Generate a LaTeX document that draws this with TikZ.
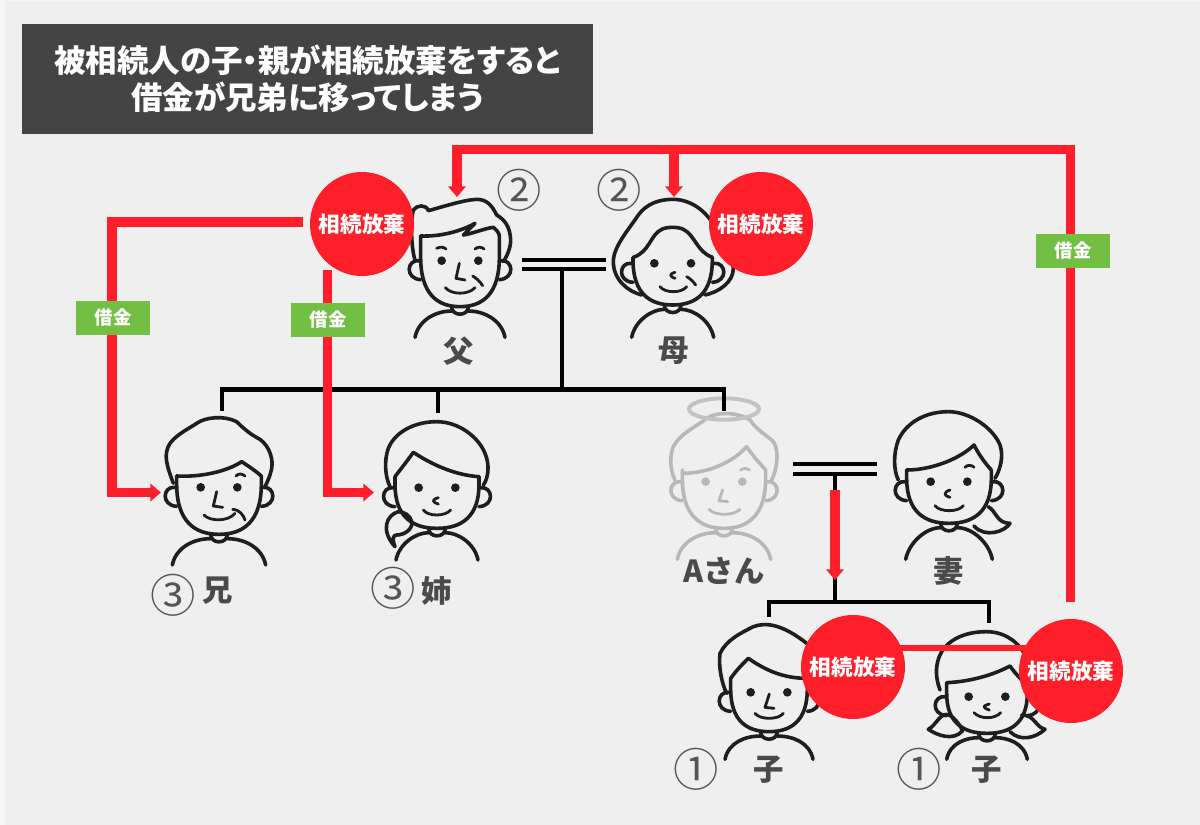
\documentclass[tikz,border=0pt]{standalone}
\usepackage{fontspec}
\usetikzlibrary{arrows.meta}
\setmainfont{Noto Sans CJK JP}
\newfontfamily\jpp{Noto Sans CJK JP}[RawFeature=+palt]
\definecolor{bgc}{HTML}{EFEFEF}
\definecolor{edgec}{HTML}{F6F6F6}
\definecolor{titlec}{HTML}{444444}
\definecolor{redc}{HTML}{FF1F2A}
\definecolor{greenc}{HTML}{73BF44}
\definecolor{inkc}{HTML}{1E1E1E}
\definecolor{ghostc}{HTML}{B8B8B8}
\definecolor{labelc}{HTML}{4A4A4A}
\definecolor{numc}{HTML}{555555}
% #1 cx #2 cy #3 chin #4 jaw half #5 shoulder half #6 shoulder y #7 jaw top
\newcommand{\pbase}[7]{%
  \begin{scope}[shift={(#1,#2)}]
    \draw (-#4,#7) -- (-#4,-10) .. controls (-#4,{#3*.72}) and ({-#4*.58},#3) .. (0,#3)
      .. controls ({#4*.58},#3) and (#4,{#3*.72}) .. (#4,-10) -- (#4,#7);
    \draw ({-#4-5},0) .. controls ({-#4-42},-4) and ({-#4-48},54) .. (-#4,57);
    \draw ({#4+5},0) .. controls ({#4+42},-4) and ({#4+48},54) .. (#4,57);
    \fill (-55,0) circle (13);
    \fill (55,0) circle (13);
    \draw (-25,#3) .. controls (-25,{#3+30}) and (25,{#3+30}) .. (25,#3);
    \draw (-#5,#6) .. controls ({-#5+10},{#6-50}) and ({-#5+60},{#3+13}) .. (-25,{#3+13});
    \draw (#5,#6) .. controls ({#5-10},{#6-50}) and ({#5-60},{#3+13}) .. (25,{#3+13});
  \end{scope}}
\tikzset{
  pen/.style={line width=2.7pt,line cap=round,line join=round},
  fine/.style={line width=2.1pt},
  blk/.style={draw=black,line width=3.6pt},
  redl/.style={draw=redc,line width=6.9pt},
  reda/.style={redl,-{Triangle[length=8pt,width=13pt]}},
  renode/.style={circle,fill=redc,minimum size=78pt,inner sep=0pt,text=white,font=\bfseries\fontsize{16.2pt}{18pt}\selectfont},
  debt/.style={fill=greenc,minimum width=55.5pt,minimum height=25.5pt,inner sep=0pt,text=white,font=\bfseries\fontsize{13.8pt}{15pt}\selectfont},
  who/.style={text=labelc,inner sep=0pt,font=\bfseries\fontsize{22.8pt}{24pt}\selectfont},
  num/.style={text=numc,inner sep=0pt,font=\fontsize{34pt}{36pt}\selectfont},
  zoomA/.style={shift={(300,140)},x=.25pt,y=-.25pt,pen},
  zoomB/.style={shift={(130,380)},x=.25pt,y=-.25pt,pen},
  zoomC/.style={shift={(650,390)},x=.25pt,y=-.25pt,pen},
  zoomD/.style={shift={(670,590)},x=.25pt,y=-.25pt,pen},
}
\begin{document}
\begin{tikzpicture}[x=.75pt,y=-.75pt]
\useasboundingbox (0,0) rectangle (1200,825);
\fill[edgec] (0,0) rectangle (1200,825);
\fill[bgc] (5,1) rectangle (1200,825);
\node[fill=titlec,minimum width=428.25pt,minimum height=82.5pt,inner sep=0pt,text=white,align=center,
  font=\jpp\bfseries\fontsize{23.6pt}{27.5pt}\selectfont] (title) at (307.5,79)
  {被相続人の子・親が相続放棄をすると\\借金が兄弟に移ってしまう};

% father
\begin{scope}[zoomA,color=inkc]
\pbase{480}{362}{138}{118}{135}{230}{-74}
\draw (345,360) .. controls (335,330) and (330,250) .. (340,210) .. controls (350,195) and (378,192) .. (385,212)
  .. controls (430,200) and (490,180) .. (530,178) .. controls (560,178) and (575,195) .. (590,225)
  .. controls (615,240) and (630,260) .. (632,300) .. controls (632,325) and (620,350) .. (610,365);
\draw (362,288) .. controls (420,290) and (480,275) .. (525,250) -- (490,285) .. controls (520,280) and (555,265) .. (580,262)
  .. controls (590,270) and (598,280) .. (598,288);
\draw[fine] (410,325) .. controls (420,320) and (430,320) .. (438,327);
\draw[fine] (525,327) .. controls (533,320) and (545,320) .. (552,327);
\draw[fine] (478,370) -- (468,415) -- (495,420);
\draw[fine] (518,408) .. controls (530,415) and (540,425) .. (548,437);
\draw[fine] (436,443) .. controls (455,465) and (505,465) .. (525,443);
\end{scope}
% mother
\begin{scope}[zoomA,color=inkc]
\pbase{1118}{370}{125}{119}{123}{222}{-18}
\draw (1025,465) .. controls (985,455) and (940,420) .. (940,365) .. controls (940,320) and (985,270) .. (1015,225)
  .. controls (1040,190) and (1080,178) .. (1118,178) .. controls (1170,178) and (1220,210) .. (1250,270)
  .. controls (1280,320) and (1300,350) .. (1300,385) .. controls (1300,425) and (1260,455) .. (1215,465);
\draw (1000,352) .. controls (1050,335) and (1050,285) .. (1085,268) .. controls (1100,260) and (1135,260) .. (1150,268)
  .. controls (1185,285) and (1190,335) .. (1237,352);
\draw[fine] (1125,397) .. controls (1115,400) and (1112,403) .. (1112,405) .. controls (1112,407) and (1115,412) .. (1125,415);
\draw[fine] (1160,410) .. controls (1170,415) and (1180,425) .. (1187,435);
\draw[fine] (1080,440) .. controls (1095,460) and (1145,460) .. (1160,440);
\end{scope}
% brother
\begin{scope}[zoomB,color=inkc]
\pbase{267}{322}{141}{127}{140}{233}{-34}
\draw (130,310) .. controls (115,270) and (105,240) .. (110,215) .. controls (115,175) and (170,150) .. (200,130)
  .. controls (225,112) and (280,105) .. (320,125) .. controls (345,150) and (365,165) .. (390,178)
  .. controls (420,200) and (430,240) .. (425,265) .. controls (420,290) and (410,310) .. (405,320);
\draw (140,288) .. controls (210,292) and (290,275) .. (335,245) .. controls (355,258) and (380,275) .. (394,288);
\draw[fine] (318,288) .. controls (325,280) and (335,280) .. (345,288);
\draw[fine] (260,335) -- (250,378) -- (278,382);
\draw[fine] (222,405) .. controls (240,425) and (295,425) .. (315,400);
\draw[fine] (308,388) .. controls (330,390) and (340,405) .. (345,420);
\end{scope}
% sister
\begin{scope}[zoomB,color=inkc]
\pbase{921}{323}{122}{126}{123}{217}{-33}
\draw (780,320) .. controls (765,290) and (762,240) .. (775,205) .. controls (795,155) and (855,125) .. (920,125)
  .. controls (985,125) and (1045,170) .. (1065,220) .. controls (1080,255) and (1075,295) .. (1060,315);
\draw (795,290) .. controls (810,270) and (830,245) .. (850,217) .. controls (900,250) and (970,285) .. (1047,290);
\draw (805,395) .. controls (770,405) and (750,450) .. (795,500) .. controls (785,475) and (790,465) .. (800,465)
  .. controls (825,465) and (850,445) .. (845,425) .. controls (840,405) and (825,397) .. (805,395);
\draw[fine] (925,353) .. controls (915,356) and (910,360) .. (910,362) .. controls (910,365) and (915,369) .. (925,372);
\draw[fine] (880,390) .. controls (895,410) and (945,410) .. (962,390);
\end{scope}
% A-san
\begin{scope}[zoomC,color=ghostc]
\pbase{222}{275}{140}{125}{140}{233}{-35}
\draw (75,270) .. controls (60,240) and (58,200) .. (70,170) .. controls (90,130) and (140,110) .. (170,85)
  .. controls (200,65) and (260,65) .. (300,90) .. controls (325,125) and (350,135) .. (370,155)
  .. controls (390,185) and (380,240) .. (365,270);
\draw (97,250) .. controls (170,250) and (245,220) .. (290,170) .. controls (310,200) and (330,220) .. (347,240);
\draw[fine] (272,240) .. controls (280,234) and (290,234) .. (298,240);
\draw[fine] (218,300) -- (207,332) -- (233,335);
\draw[fine] (177,358) .. controls (195,378) and (250,378) .. (270,358);
\draw[draw=ghostc!80!bgc,line width=3pt] (222,57) ellipse (105 and 32);
\end{scope}
% wife
\begin{scope}[zoomC,color=inkc]
\pbase{897}{275}{125}{127}{130}{233}{-35}
\draw (745,270) .. controls (730,240) and (730,190) .. (745,150) .. controls (770,95) and (830,65) .. (895,65)
  .. controls (960,65) and (1030,115) .. (1050,165) .. controls (1062,200) and (1050,240) .. (1035,265);
\draw (770,240) .. controls (840,240) and (925,210) .. (972,165) .. controls (990,200) and (1010,225) .. (1024,240);
\draw[fine] (945,232) .. controls (952,224) and (965,224) .. (972,232);
\draw[fine] (900,300) .. controls (890,303) and (885,308) .. (885,312) .. controls (885,315) and (890,319) .. (900,322);
\draw[fine] (855,347) .. controls (870,367) and (925,367) .. (940,347);
\draw (1015,350) .. controls (1040,365) and (1040,400) .. (1080,400) .. controls (1065,425) and (1005,445) .. (972,408);
\end{scope}
% son
\begin{scope}[zoomD,color=inkc]
\pbase{297}{307}{118}{115}{132}{201}{-42}
\draw (170,310) .. controls (155,280) and (145,230) .. (150,190) .. controls (170,150) and (210,130) .. (250,110)
  .. controls (290,95) and (340,105) .. (410,160);
\draw (182,265) .. controls (200,240) and (215,225) .. (235,205) .. controls (285,240) and (340,265) .. (410,265);
\draw[fine] (298,312) -- (285,352) -- (312,355);
\draw[fine] (255,370) .. controls (270,390) and (325,390) .. (340,370);
\end{scope}
% daughter
\begin{scope}[zoomD,color=inkc]
\pbase{951}{320}{110}{121}{121}{188}{-42}
\draw (810,300) .. controls (795,260) and (795,220) .. (815,185) .. controls (840,145) and (890,125) .. (950,125)
  .. controls (1010,125) and (1060,165) .. (1075,220) .. controls (1085,250) and (1085,270) .. (1080,285);
\draw (830,278) .. controls (900,275) and (970,255) .. (1020,228) .. controls (1035,250) and (1055,270) .. (1065,280);
\draw[fine] (958,342) .. controls (948,345) and (942,348) .. (942,350) .. controls (942,353) and (948,357) .. (958,360);
\draw[fine] (912,368) .. controls (930,388) and (975,388) .. (992,368);
\draw (838,375) .. controls (810,365) and (800,405) .. (775,418) .. controls (800,435) and (850,455) .. (878,422);
\draw (838,375) .. controls (855,385) and (870,405) .. (878,422);
\draw (1055,375) .. controls (1095,375) and (1095,410) .. (1125,418) .. controls (1095,445) and (1050,455) .. (1020,425);
\end{scope}

% named junctions
\coordinate (fbarLa) at (522,260); \coordinate (fbarRa) at (606,260);
\coordinate (fbarLb) at (522,269); \coordinate (fbarRb) at (606,269);
\coordinate (fstem) at (562,269); \coordinate (fjoin) at (562,389.5);
\coordinate (sibL) at (220,389.5); \coordinate (sibR) at (726,389.5);
\coordinate (sibLtop) at (222,389.5); \coordinate (sibLend) at (222,411);
\coordinate (sibMtop) at (438,389.5); \coordinate (sibMend) at (438,413);
\coordinate (sibRtop) at (724,389.5); \coordinate (sibRend) at (724,411);
\coordinate (cbarLa) at (793,464); \coordinate (cbarRa) at (877,464);
\coordinate (cbarLb) at (793,474); \coordinate (cbarRb) at (877,474);
\coordinate (cstem) at (835,474); \coordinate (cjoin) at (835,602);
\coordinate (kidL) at (767,602); \coordinate (kidR) at (991,602);
\coordinate (kidLtop) at (769,602); \coordinate (kidLend) at (769,617);
\coordinate (kidRtop) at (989,602); \coordinate (kidRend) at (989,623);
\draw[blk] (fbarLa) -- (fbarRa);
\draw[blk] (fbarLb) -- (fbarRb);
\draw[blk] (fstem) -- (fjoin);
\draw[blk] (sibL) -- (sibR);
\draw[blk] (sibLtop) -- (sibLend);
\draw[blk] (sibMtop) -- (sibMend);
\draw[blk] (sibRtop) -- (sibRend);
\draw[blk] (cbarLa) -- (cbarRa);
\draw[blk] (cbarLb) -- (cbarRb);
\draw[blk] (cstem) -- (cjoin);
\draw[blk] (kidL) -- (kidR);
\draw[blk] (kidLtop) -- (kidLend);
\draw[blk] (kidRtop) -- (kidRend);

% red connectors
\coordinate (rRb) at (1070.5,602); \coordinate (rRt) at (1070.5,149.5);
\coordinate (rTL) at (457,149.5); \coordinate (tipF) at (457,197);
\coordinate (rTM) at (674,149.5); \coordinate (tipM) at (674,197);
\coordinate (rLa) at (303,222); \coordinate (rLb) at (112,222); \coordinate (rLc) at (112,492.5); \coordinate (tipB) at (161,492.5);
\coordinate (rMa) at (327.5,270); \coordinate (rMb) at (327.5,492.5); \coordinate (tipS) at (374,492.5);
\coordinate (rCa) at (835,490); \coordinate (tipC) at (835,580);
\coordinate (rSa) at (880,648); \coordinate (rSb) at (1040,648);
\draw[reda] (rRb) -- (rRt) -- (rTL) -- (tipF);
\draw[reda] (rTM) -- (tipM);
\draw[reda] (rLa) -- (rLb) -- (rLc) -- (tipB);
\draw[reda] (rMa) -- (rMb) -- (tipS);
\draw[reda] (rCa) -- (tipC);
\draw[draw=redc,line width=3.8pt] (rSa) -- (rSb);

% red-circle nodes
\node[renode] (reF) at (362,224) {相続放棄};
\node[renode] (reM) at (761,224) {相続放棄};
\node[renode] (reS) at (853,667) {相続放棄};
\node[renode] (reD) at (1071,671) {相続放棄};

% debt tags
\node[debt] (d1) at (113,318) {借金};
\node[debt] (d2) at (328,320) {借金};
\node[debt] (d3) at (1073,251) {借金};

% circled numbers
\node[num] (n2a) at (519,190) {②};
\node[num] (n2b) at (619,190) {②};
\node[num] (n3a) at (173,595) {③};
\node[num] (n3b) at (393,588) {③};
\node[num] (n1a) at (696,769) {①};
\node[num] (n1b) at (919,769) {①};

% labels
\node[who] (lf) at (459,351) {父};
\node[who] (lm) at (674,351) {母};
\node[who] (lb) at (218,591) {兄};
\node[who] (ls) at (437,591) {姉};
\node[who] (la) at (724,571) {Aさん};
\node[who] (lw) at (949,571) {妻};
\node[who] (lc1) at (769,770) {子};
\node[who] (lc2) at (987,770) {子};
\end{tikzpicture}
\end{document}
